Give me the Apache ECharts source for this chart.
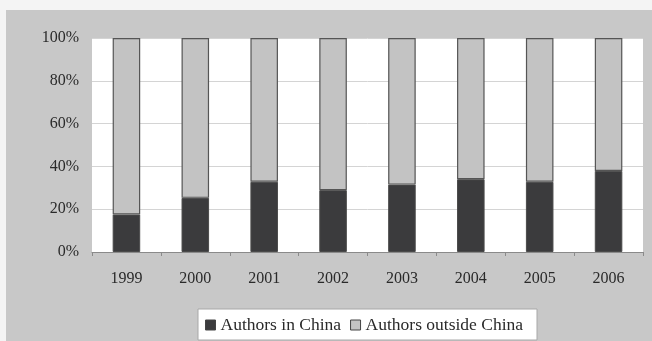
<!DOCTYPE html>
<html>
<head>
<meta charset="utf-8">
<script src="https://cdn.jsdelivr.net/npm/echarts@6/dist/echarts.min.js"></script>
<style>
  html, body { margin: 0; padding: 0; background: #f4f4f4; }
  #chart { width: 652px; height: 341px; }
</style>
</head>
<body>
<div id="chart"></div>
<script>
// Share of authors by location, per year (percent)
const years = ['1999', '2000', '2001', '2002', '2003', '2004', '2005', '2006'];
const inChina = [17.5, 25.3, 32.8, 28.9, 31.5, 34.0, 32.8, 37.9];
const outsideChina = inChina.map(v => +(100 - v).toFixed(1));
const seriesNames = ['Authors in China', 'Authors outside China'];
const yTicks = [0, 20, 40, 60, 80, 100];

const chart = echarts.init(document.getElementById('chart'), null, { renderer: 'canvas' });
const serif = '"Liberation Serif", "DejaVu Serif", serif';

chart.setOption({
  animation: false,
  backgroundColor: 'transparent',
  graphic: [
    {
      type: 'rect',
      z: -10,
      shape: { x: 6, y: 10, width: 646, height: 331 },
      style: { fill: '#c8c8c8' }
    },
    {
      type: 'rect',
      z: -9,
      shape: { x: 198, y: 309, width: 339, height: 31 },
      style: { fill: '#ffffff', stroke: '#a8a8a8', lineWidth: 1 }
    }
  ],
  grid: {
    left: 92, right: 9, top: 38, bottom: 89,
    show: true, backgroundColor: '#ffffff', borderWidth: 0
  },
  legend: {
    left: 200,
    top: 311,
    icon: 'rect',
    itemWidth: 10,
    itemHeight: 10,
    itemGap: 9,
    textStyle: { fontFamily: serif, fontSize: 17.5, color: '#2a2a2a' },
    data: seriesNames.map(n => ({ name: n, itemStyle: { borderColor: '#444', borderWidth: 1 } }))
  },
  xAxis: {
    type: 'category',
    data: years,
    axisLine: { lineStyle: { color: '#8a8a8a', width: 1 } },
    axisTick: { show: true, length: 4, lineStyle: { color: '#8a8a8a' } },
    axisLabel: { fontFamily: serif, fontSize: 16, color: '#2a2a2a', margin: 19 }
  },
  yAxis: {
    type: 'value',
    min: 0, max: 100, interval: 20,
    axisLine: { show: false },
    axisTick: { show: false },
    axisLabel: {
      fontFamily: serif, fontSize: 16, color: '#2a2a2a', margin: 13,
      formatter: v => yTicks.includes(v) ? v + '%' : ''
    },
    splitLine: { lineStyle: { color: '#d4d4d4', width: 1 } }
  },
  series: [
    {
      name: seriesNames[0],
      type: 'bar',
      stack: 'share',
      barWidth: '40%',
      data: inChina,
      itemStyle: { color: '#3b3b3d', borderColor: '#4a4a4a', borderWidth: 1 }
    },
    {
      name: seriesNames[1],
      type: 'bar',
      stack: 'share',
      barWidth: '40%',
      data: outsideChina,
      itemStyle: { color: '#c3c3c3', borderColor: '#555555', borderWidth: 1.2 }
    }
  ]
});
</script>
</body>
</html>
